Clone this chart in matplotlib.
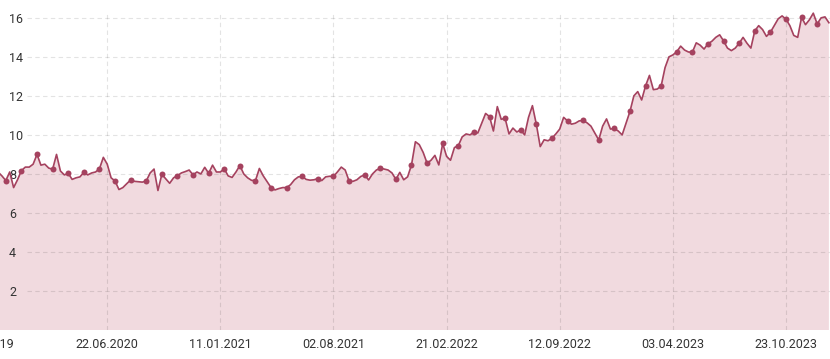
import matplotlib
matplotlib.use("Agg")
import matplotlib.pyplot as plt
import pandas as pd

plt.rcParams['font.family'] = ['Roboto', 'DejaVu Sans']

# weekly series starting 2019-12-09
start_date = "2019-12-09"
values = [
    8.1, 7.9, 7.66, 8.1, 7.3, 7.7, 8.17, 8.35, 8.35, 8.5,
    9.0, 8.45, 8.5, 8.3, 8.24, 9.0, 8.15, 7.95, 8.03, 7.72,
    7.8, 7.85, 8.08, 7.95, 8.05, 8.1, 8.26, 8.85, 8.5, 7.8,
    7.64, 7.2, 7.3, 7.5, 7.69, 7.62, 7.6, 7.58, 7.64, 8.05,
    8.25, 7.15, 7.98, 7.75, 7.52, 7.8, 7.91, 8.05, 8.12, 8.2,
    7.95, 8.1, 8.0, 8.34, 8.03, 8.45, 8.1, 8.1, 8.26, 7.9,
    7.82, 8.1, 8.43, 8.0, 7.8, 7.67, 7.66, 8.28, 7.9, 7.6,
    7.3, 7.18, 7.25, 7.3, 7.3, 7.45, 7.7, 7.85, 7.87, 7.72,
    7.68, 7.7, 7.76, 7.66, 7.85, 7.88, 7.87, 8.1, 8.35, 8.2,
    7.64, 7.62, 7.7, 7.87, 7.95, 7.69, 8.0, 8.2, 8.29, 8.25,
    8.2, 8.05, 7.72, 8.08, 7.7, 7.85, 8.46, 9.65, 9.5, 9.1,
    8.55, 8.7, 8.95, 8.46, 9.56, 8.9, 8.7, 9.35, 9.45, 9.9,
    10.05, 10.0, 10.15, 10.1, 10.6, 11.1, 10.94, 10.2, 11.45, 10.8,
    10.85, 10.05, 10.35, 10.15, 10.26, 10.0, 10.9, 11.5, 10.55, 9.4,
    9.75, 9.7, 9.83, 10.05, 10.3, 10.9, 10.72, 10.55, 10.6, 10.72,
    10.74, 10.62, 10.45, 10.1, 9.74, 10.45, 10.82, 10.3, 10.33, 10.2,
    10.0, 10.6, 11.2, 12.0, 12.22, 11.79, 12.51, 13.05, 12.32, 12.35,
    12.51, 13.45, 14.0, 14.1, 14.26, 14.55, 14.35, 14.25, 14.24, 14.72,
    14.6, 14.4, 14.67, 14.8, 15.0, 15.13, 14.82, 14.45, 14.32, 14.45,
    14.7, 15.0, 14.7, 14.45, 15.33, 15.6, 15.4, 15.05, 15.26, 15.6,
    15.95, 16.1, 15.93, 15.6, 15.1, 15.0, 16.03, 15.65, 15.9, 16.24,
    15.69, 16.0, 16.05, 15.75,
]
dates = pd.date_range(start_date, periods=len(values), freq="7D")

tick_dates = ["2019-11-11", "2020-06-22", "2021-01-11", "2021-08-02",
              "2022-02-21", "2022-09-12", "2023-04-03", "2023-10-23"]
tick_labels = ["11.11.2019", "22.06.2020", "11.01.2021", "02.08.2021",
               "21.02.2022", "12.09.2022", "03.04.2023", "23.10.2023"]
y_ticks = [2, 4, 6, 8, 10, 12, 14, 16]

W, H = 830, 359
fig = plt.figure(figsize=(W / 100, H / 100), dpi=100)
left_px, right_px, top_px, bottom_px = -41, 830, 12, 330
ax = fig.add_axes([left_px / W, (H - bottom_px) / H,
                   (right_px - left_px) / W, (bottom_px - top_px) / H])

line_color = "#a5425f"
fill_color = "#f1dadf"
grid_rgba = (0, 0, 0, 0.11)

ax.set_xlim(pd.Timestamp("2019-09-30"), pd.Timestamp("2024-01-10"))
ax.set_ylim(0, 16.3)

ax.fill_between(dates, 0, values, color=fill_color, lw=0, zorder=1)

# grid
for yv in y_ticks:
    ax.axhline(yv, xmin=0.078, xmax=1, color=grid_rgba, lw=0.8,
               ls=(0, (4, 3)), zorder=2)
for td in tick_dates:
    ax.axvline(pd.Timestamp(td), color=grid_rgba, lw=0.8,
               ls=(0, (4, 3)), zorder=2)

ax.plot(dates, values, color=line_color, lw=1.2, zorder=3,
        marker="o", markersize=4.3, markevery=(2, 4),
        markeredgewidth=0, solid_joinstyle="round")

for s in ax.spines.values():
    s.set_visible(False)

ax.set_xticks([pd.Timestamp(d) for d in tick_dates])
ax.set_xticklabels(tick_labels)
ax.set_yticks(y_ticks)
ax.set_yticklabels([str(v) for v in y_ticks])
ax.tick_params(axis="x", length=0, pad=6, labelsize=9, colors="#333333")
ax.tick_params(axis="y", length=0, pad=-36, labelsize=9, colors="#333333")
for lab in ax.get_yticklabels():
    lab.set_horizontalalignment("left")

fig.savefig("out.png", dpi=100)
